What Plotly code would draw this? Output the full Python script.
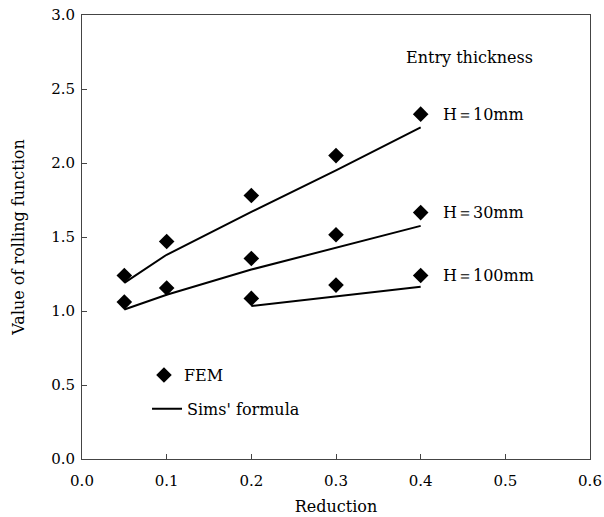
import plotly.graph_objects as go

reduction = [0.05, 0.1, 0.2, 0.3, 0.4]
reduction_100 = [0.2, 0.3, 0.4]

fem_h10 = [1.24, 1.47, 1.78, 2.05, 2.33]
fem_h30 = [1.06, 1.155, 1.355, 1.515, 1.665]
fem_h100 = [1.085, 1.175, 1.24]

sims_h10 = [1.19, 1.38, 1.67, 1.95, 2.24]
sims_h30 = [1.01, 1.11, 1.28, 1.43, 1.575]
sims_h100 = [1.034, 1.10, 1.164]

labels = ["H＝10mm", "H＝30mm", "H＝100mm"]

FONT = "DejaVu Serif"

fig = go.Figure()

line_style = dict(color="black", width=2)
marker_style = dict(symbol="diamond", size=12, color="black")

for xs, ys, show in [(reduction, sims_h10, True), (reduction, sims_h30, False), (reduction_100, sims_h100, False)]:
    fig.add_trace(go.Scatter(x=xs, y=ys, mode="lines", line=line_style,
                             name="Sims' formula", showlegend=show, legend="legend2"))

for xs, ys, show in [(reduction, fem_h10, True), (reduction, fem_h30, False), (reduction_100, fem_h100, False)]:
    fig.add_trace(go.Scatter(x=xs, y=ys, mode="markers", marker=marker_style,
                             name="FEM", showlegend=show, legend="legend"))

# labels next to the last points
for lab, ys in zip(labels, [fem_h10, fem_h30, fem_h100]):
    fig.add_annotation(x=0.4235, y=ys[-1], text=lab, showarrow=False,
                       xanchor="left", yanchor="middle",
                       font=dict(family=FONT, size=16, color="black"))

fig.add_annotation(x=0.458, y=2.716, text="Entry thickness", showarrow=False,
                   xanchor="center", yanchor="middle",
                   font=dict(family=FONT, size=16, color="black"))

axis_common = dict(
    showline=True, linecolor="#444", linewidth=1, mirror=True,
    ticks="inside", ticklen=5, tickcolor="#444", tickwidth=1,
    showgrid=False, zeroline=False, automargin=False,
    tickfont=dict(family=FONT, size=15, color="black"),
)

fig.update_xaxes(range=[0, 0.6], tickvals=[0, 0.1, 0.2, 0.3, 0.4, 0.5, 0.6],
                 ticktext=["0.0", "0.1", "0.2", "0.3", "0.4", "0.5", "0.6"],
                 ticklabelstandoff=8,
                 title=dict(text="Reduction", font=dict(family=FONT, size=16, color="black"), standoff=11),
                 **axis_common)
fig.update_yaxes(range=[0, 3.0], tickvals=[0, 0.5, 1.0, 1.5, 2.0, 2.5, 3.0],
                 ticktext=["0.0", "0.5", "1.0", "1.5", "2.0", "2.5", "3.0"],
                 ticklabelstandoff=3,
                 title=dict(text="Value of rolling function", font=dict(family=FONT, size=16, color="black"), standoff=22),
                 **axis_common)

fig.update_layout(
    width=604, height=517,
    margin=dict(l=82, r=14, t=15, b=58),
    plot_bgcolor="white", paper_bgcolor="white",
    font=dict(family=FONT, size=16, color="black"),
    legend=dict(x=0.122, y=0.189, xanchor="left", yanchor="middle",
                bgcolor="rgba(0,0,0,0)", borderwidth=0,
                font=dict(family=FONT, size=16, color="black")),
    legend2=dict(x=0.128, y=0.113, xanchor="left", yanchor="middle",
                 bgcolor="rgba(0,0,0,0)", borderwidth=0,
                 font=dict(family=FONT, size=16, color="black")),
)

fig.write_html("out.html")
